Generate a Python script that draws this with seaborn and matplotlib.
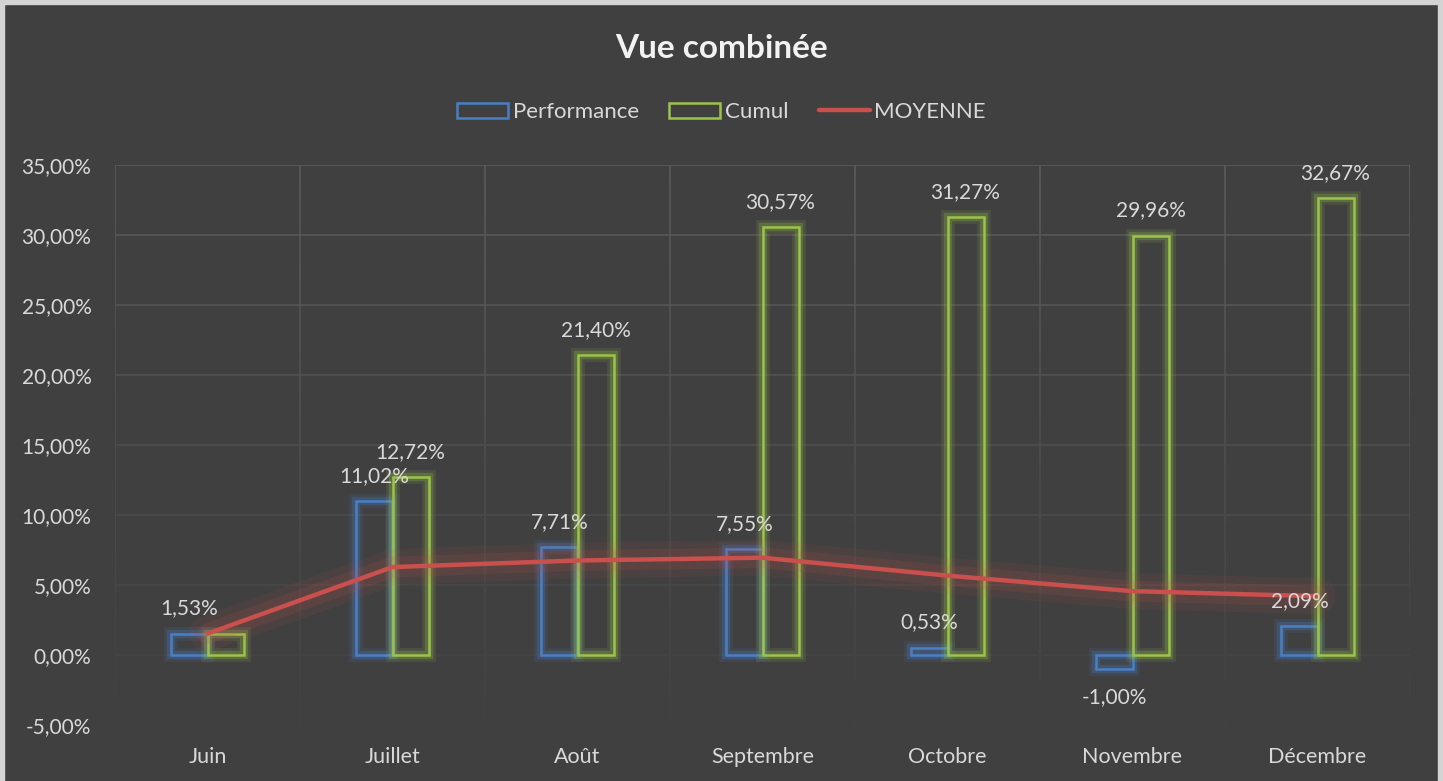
import matplotlib
matplotlib.use('Agg')
import matplotlib.pyplot as plt
import matplotlib.patheffects as pe
from matplotlib.patches import Patch, Rectangle
from matplotlib.lines import Line2D
from matplotlib.collections import LineCollection
import matplotlib.colors as mcolors
import seaborn as sns
import pandas as pd
import numpy as np

# ---------------- data ----------------
mois = ["Juin", "Juillet", "Août", "Septembre", "Octobre", "Novembre", "Décembre"]
performance = [1.53, 11.02, 7.71, 7.55, 0.53, -1.00, 2.09]
cumul = [1.53, 12.72, 21.40, 30.57, 31.27, 29.96, 32.67]
moyenne = [1.53, 6.28, 6.75, 6.95, 5.67, 4.56, 4.20]
y_ticks = [-5, 0, 5, 10, 15, 20, 25, 30, 35]
series = ["Performance", "Cumul", "MOYENNE"]
cumul_label_shown = [False, True, True, True, True, True, True]
title = "Vue combinée"

# ---------------- style ----------------
BG = '#404040'
BLUE = '#4A7FC6'
GREEN = '#9CC44A'
RED = '#C9504C'
TXT = '#d9d9d9'

sns.set_theme(style='dark')
plt.rcParams['font.family'] = ['Lato', 'DejaVu Sans']

W, H = 1443, 781
fig = plt.figure(figsize=(W / 100, H / 100), dpi=100, facecolor=BG)

# outer light border (left, top, right)
bc = '#d4d4d4'
fig.add_artist(Rectangle((0, 0), 4 / W, 1, transform=fig.transFigure, color=bc, zorder=10))
fig.add_artist(Rectangle((0, 1 - 4 / H), 1, 4 / H, transform=fig.transFigure, color=bc, zorder=10))
fig.add_artist(Rectangle((1 - 5 / W, 0), 5 / W, 1, transform=fig.transFigure, color=bc, zorder=10))

ax = fig.add_axes([115 / W, 1 - 725 / H, 1295 / W, 560 / H])
ax.set_facecolor(BG)
for s in ax.spines.values():
    s.set_visible(False)
ax.grid(False)

ymin, ymax = -5, 35
n = len(mois)

# gradient gridlines (fade toward bottom)
bg_rgb = np.array(mcolors.to_rgb(BG))
top_rgb = np.array(mcolors.to_rgb('#5b5b5b'))
def grid_col(v):
    t = (v - ymin) / (ymax - ymin)
    t = 0.05 + 0.95 * t
    return tuple(bg_rgb + (top_rgb - bg_rgb) * t)

hsegs, hcols = [], []
for v in y_ticks:
    hsegs.append([(-0.5, v), (n - 0.5, v)])
    hcols.append(grid_col(v))
ax.add_collection(LineCollection(hsegs, colors=hcols, linewidths=1.2, zorder=1))

vsegs, vcols = [], []
steps = np.linspace(ymin, ymax, 81)
for xb in np.arange(-0.5, n, 1.0):
    for a, b in zip(steps[:-1], steps[1:]):
        vsegs.append([(xb, a), (xb, b)])
        vcols.append(grid_col((a + b) / 2))
ax.add_collection(LineCollection(vsegs, colors=vcols, linewidths=1.2, zorder=1))

# bars
df = pd.DataFrame({
    'Mois': mois * 2,
    'Valeur': performance + cumul,
    'Série': [series[0]] * n + [series[1]] * n,
})
sns.barplot(data=df, x='Mois', y='Valeur', hue='Série', order=mois,
            hue_order=series[:2], palette=[BLUE, GREEN], fill=False,
            width=0.39, linewidth=1.8, errorbar=None, legend=False, ax=ax)

for p in ax.patches:
    ec = p.get_edgecolor()
    p.set_zorder(3)
    p.set_path_effects([
        pe.Stroke(linewidth=10, foreground=ec, alpha=0.12),
        pe.Stroke(linewidth=6, foreground=ec, alpha=0.25),
        pe.Normal(),
    ])

# line
sns.lineplot(x=np.arange(n), y=moyenne, color=RED, linewidth=3.2, ax=ax,
             zorder=5, solid_capstyle='round')
for ln in ax.lines:
    ln.set_path_effects([
        pe.Stroke(linewidth=26, foreground=RED, alpha=0.08),
        pe.Stroke(linewidth=15, foreground=RED, alpha=0.14),
        pe.Normal(),
    ])

# data labels
def fmt(v):
    return f"{v:.2f}".replace('.', ',') + '%'

off = 0.39 / 4
for i in range(n):
    v = performance[i]
    dy = 25 if v >= 0 else -28
    ax.annotate(fmt(v), (i - off, v), xytext=(0, dy), textcoords='offset pixels',
                ha='center', va='center', color=TXT, fontsize=15, zorder=6)
    if cumul_label_shown[i]:
        c = cumul[i]
        ax.annotate(fmt(c), (i + off, c), xytext=(0, 25), textcoords='offset pixels',
                    ha='center', va='center', color=TXT, fontsize=15, zorder=6)

# axes
ax.set_xlim(-0.5, n - 0.5)
ax.set_ylim(ymin, ymax)
ax.set_yticks(y_ticks)
ax.set_yticklabels([fmt(v) for v in y_ticks])
ax.set_xticks(range(n))
ax.set_xticklabels(mois)
ax.set_xlabel('')
ax.set_ylabel('')
ax.tick_params(axis='y', colors=TXT, labelsize=15, length=0, pad=17)
ax.tick_params(axis='x', colors=TXT, labelsize=15.5, length=0, pad=16)

# title
fig.text(0.5, 1 - 48 / H, title, ha='center', va='center', fontsize=24,
         fontweight='bold', color='#f2f2f2')

# legend
handles = [
    Patch(facecolor='none', edgecolor=BLUE, linewidth=1.8),
    Patch(facecolor='none', edgecolor=GREEN, linewidth=1.8),
    Line2D([0], [0], color=RED, linewidth=3.2, solid_capstyle='round'),
]
leg = fig.legend(handles, series, loc='center', bbox_to_anchor=(0.5, 1 - 112 / H),
                 ncol=3, frameon=False, fontsize=16, handlelength=2.3,
                 handleheight=0.65, handletextpad=0.2, columnspacing=1.36)
for t in leg.get_texts():
    t.set_color(TXT)

fig.savefig('out.png', dpi=100, facecolor=BG)
